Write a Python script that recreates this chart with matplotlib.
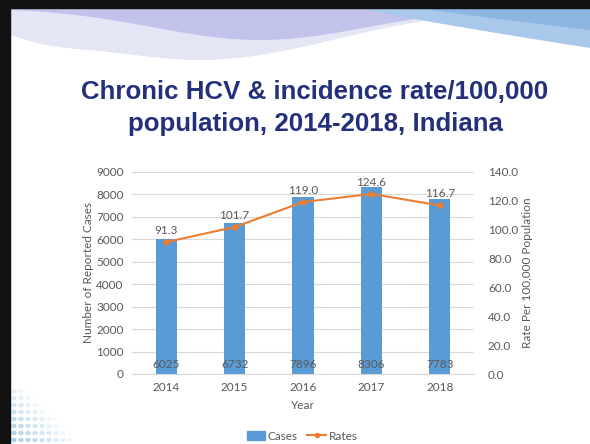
import numpy as np
import matplotlib
matplotlib.use("Agg")
import matplotlib.pyplot as plt
from matplotlib.patches import Rectangle, Polygon

years = ["2014", "2015", "2016", "2017", "2018"]
cases = [6025, 6732, 7896, 8306, 7783]
rates = [91.3, 101.7, 119.0, 124.6, 116.7]

plt.rcParams['font.family'] = ['Lato', 'DejaVu Sans']
gray = '#595959'
bar_col = '#5B9BD5'
line_col = '#ED7D31'
fs = 8.5

fig = plt.figure(figsize=(5.9, 4.44), dpi=100)
fig.patch.set_facecolor('white')

# slide decoration: top swoosh, black frame, dotted corner
W, H = 590, 444
def fx(px): return px / W
def fy(py): return 1 - py / H

def band(xs, top, bot, **kw):
    pts = np.column_stack([fx(np.r_[xs, xs[::-1]]), fy(np.r_[top, bot[::-1]])])
    fig.add_artist(Polygon(pts, closed=True, edgecolor='none', transform=fig.transFigure, **kw))

xs = np.linspace(10, 590, 300)
t = 8 + 0 * xs
# light lavender wide swoosh
low1 = 8 + 52 * np.exp(-((xs - 200) / 190) ** 2) + 10 * np.exp(-((xs - 40) / 60) ** 2)
band(xs, t, low1, facecolor='#E4E6F6')
# darker purple band
low2 = 8 + 32 * np.exp(-((xs - 260) / 150) ** 2)
band(xs, t, low2, facecolor='#BDBDEA', alpha=0.85)
# blue band on the right
low3 = 8 + 40 * np.clip((xs - 360) / 230, 0, 1) ** 0.9
band(xs, t, low3, facecolor='#A9C8EA')
low4 = 8 + 22 * np.clip((xs - 420) / 170, 0, 1) ** 0.9
band(xs, t, low4, facecolor='#8DB6E2')

for i in range(8):
    for j in range(9):
        px = 14 + j * 7
        py = 440 - i * 7
        a = max(0, 0.55 - 0.06 * j - 0.06 * i)
        if a > 0:
            fig.add_artist(plt.Circle((fx(px), fy(py)), 0.0035, color='#7FB8D8', alpha=a,
                                      transform=fig.transFigure))
fig.add_artist(Rectangle((0, fy(8)), 1, 8 / H, color='#111111', transform=fig.transFigure))
fig.add_artist(Rectangle((0, 0), 10 / W, 1, color='#111111', transform=fig.transFigure))

fig.text(fx(315), fy(108), "Chronic HCV & incidence rate/100,000\npopulation, 2014-2018, Indiana",
         ha='center', va='center', fontsize=18.6, fontweight='bold', color='#24307A',
         family=['Liberation Sans', 'DejaVu Sans'], linespacing=1.4)

ax = fig.add_axes([fx(132), fy(374), (474 - 132) / W, (374 - 171.7) / H])
x = np.arange(len(years))
ax.bar(x, cases, width=0.31, color=bar_col, zorder=2)
ax.set_xlim(-0.5, 4.5)
ax.set_ylim(0, 9000)
ax.set_yticks(range(0, 9001, 1000))
ax.grid(axis='y', color='#D9D9D9', linewidth=0.8, zorder=0)
ax.set_xticks(x)
ax.set_xticklabels(years)
ax.tick_params(length=0, labelsize=fs, labelcolor=gray, pad=6)
for s in ['top', 'right', 'left']:
    ax.spines[s].set_visible(False)
ax.spines['bottom'].set_color('#D9D9D9')
ax.set_ylabel("Number of Reported Cases", fontsize=fs, color=gray)
ax.yaxis.set_label_coords(-0.11, 0.5)
ax.set_xlabel("Year", fontsize=fs, color=gray, labelpad=5)
for xi, c in zip(x, cases):
    ax.text(xi, 180, str(c), ha='center', va='bottom', fontsize=fs, color=gray, zorder=4)

ax2 = ax.twinx()
ax2.plot(x, rates, color=line_col, marker='o', markersize=3.5, linewidth=1.5, zorder=3)
ax2.set_ylim(0, 140)
ax2.set_yticks(range(0, 141, 20))
ax2.set_yticklabels([f"{v:.1f}" for v in range(0, 141, 20)])
ax2.tick_params(length=0, labelsize=fs, labelcolor=gray, pad=10)
for s in ax2.spines.values():
    s.set_visible(False)
ax2.set_ylabel("Rate Per 100,000 Population", fontsize=fs, color=gray)
ax2.yaxis.set_label_coords(1.14, 0.5)
for xi, r in zip(x, rates):
    ax2.annotate(f"{r:.1f}", (xi, r), xytext=(0, 4.5), textcoords='offset points',
                 ha='center', va='bottom', fontsize=fs, color=gray)

handles = [Rectangle((0, 0), 1, 1, color=bar_col),
           plt.Line2D([], [], color=line_col, marker='o', markersize=3, linewidth=1.5)]
fig.legend(handles, ["Cases", "Rates"], loc='center', bbox_to_anchor=(fx(302), fy(436)),
           ncol=2, frameon=False, fontsize=fs, labelcolor=gray, handlelength=1.6,
           handletextpad=0.2, columnspacing=0.8)

fig.savefig("out.png", dpi=100, facecolor='white')
